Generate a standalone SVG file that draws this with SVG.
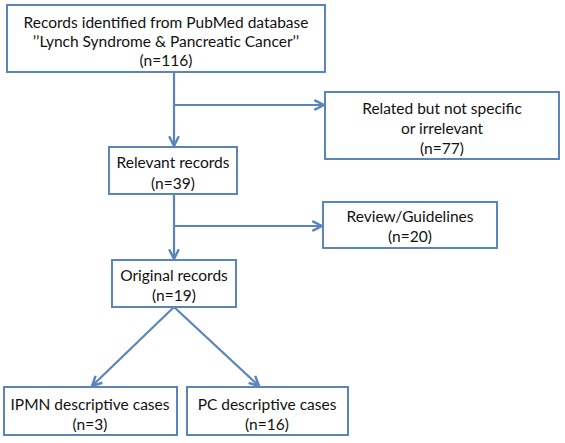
<svg xmlns="http://www.w3.org/2000/svg" width="565" height="443" viewBox="0 0 565 443">
<style>
.box{fill:#fff;stroke:#5B84BD;stroke-width:2}
.t{font-family:Lato,"Liberation Sans",sans-serif;font-size:15.5px;fill:#111;text-anchor:middle}
.c{fill:none;stroke:#5B84BD;stroke-width:2.2}
</style>
<defs>
<marker id="ah" viewBox="0 0 10 10" refX="9" refY="5" markerWidth="5.5" markerHeight="5.5" orient="auto" markerUnits="strokeWidth">
<path d="M1,1 L9,5 L1,9" fill="none" stroke="#5B84BD" stroke-width="2"/>
</marker>
</defs>
<rect width="565" height="443" fill="#fff"/>
<g id="connectors">
<line class="c" x1="174" y1="72" x2="174" y2="146" marker-end="url(#ah)"/>
<line class="c" x1="174" y1="105" x2="324" y2="105" marker-end="url(#ah)"/>
<line class="c" x1="174" y1="194" x2="174" y2="259" marker-end="url(#ah)"/>
<line class="c" x1="174" y1="226" x2="322" y2="226" marker-end="url(#ah)"/>
<line class="c" x1="174" y1="307" x2="92" y2="386" marker-end="url(#ah)"/>
<line class="c" x1="174" y1="307" x2="259" y2="386" marker-end="url(#ah)"/>
</g>
<g id="n1">
<rect class="box" x="7" y="5" width="318" height="67"/>
<text class="t" x="166" y="28">Records identified from PubMed database</text>
<text class="t" x="166" y="47">’’Lynch Syndrome &amp; Pancreatic Cancer’’</text>
<text class="t" x="166" y="66">(n=116)</text>
</g>
<g id="n2">
<rect class="box" x="325" y="92" width="234" height="67"/>
<text class="t" x="442" y="114">Related but not specific</text>
<text class="t" x="442" y="134">or irrelevant</text>
<text class="t" x="442" y="154">(n=77)</text>
</g>
<g id="n3">
<rect class="box" x="109" y="147" width="128" height="47"/>
<text class="t" x="173" y="168">Relevant records</text>
<text class="t" x="173" y="189">(n=39)</text>
</g>
<g id="n4">
<rect class="box" x="323" y="202" width="174" height="46"/>
<text class="t" x="410" y="222">Review/Guidelines</text>
<text class="t" x="410" y="242">(n=20)</text>
</g>
<g id="n5">
<rect class="box" x="112" y="260" width="124" height="47"/>
<text class="t" x="174" y="281">Original records</text>
<text class="t" x="174" y="301">(n=19)</text>
</g>
<g id="n6">
<rect class="box" x="4" y="387" width="173" height="48"/>
<text class="t" x="90" y="410">IPMN descriptive cases</text>
<text class="t" x="90" y="430">(n=3)</text>
</g>
<g id="n7">
<rect class="box" x="187" y="387" width="161" height="48"/>
<text class="t" x="267" y="410">PC descriptive cases</text>
<text class="t" x="267" y="430">(n=16)</text>
</g>
</svg>
